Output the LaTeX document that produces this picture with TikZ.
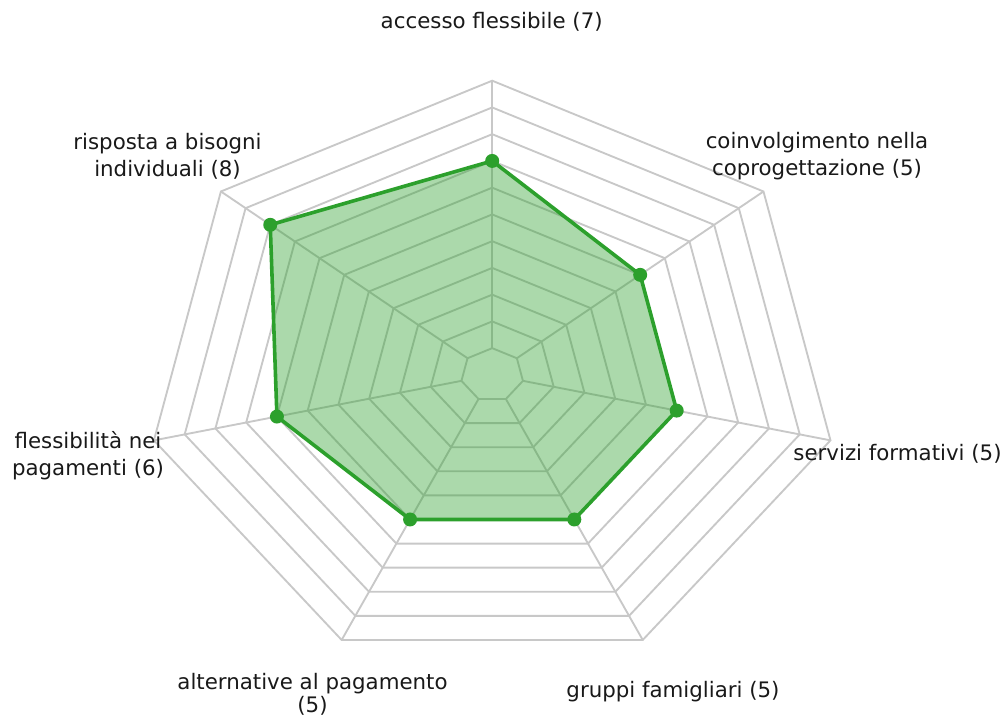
\documentclass[tikz,border=0pt]{standalone}
\usepackage{fontspec}
\setmainfont{DejaVu Sans}
\definecolor{gridc}{HTML}{C8C8C8}
\definecolor{tabgreen}{HTML}{2CA02C}
\tikzset{
  gridline/.style={draw=gridc, line width=1.4pt, line join=miter},
  series/.style={draw=tabgreen, line width=2.7pt, line join=round, fill=tabgreen, fill opacity=0.4, draw opacity=1},
  dot/.style={circle, fill=tabgreen, inner sep=0pt, minimum size=10.5pt},
  lab/.style={font=\fontsize{16pt}{20.25pt}\selectfont, text=black!90, inner sep=0pt, align=center},
}
\begin{document}
\begin{tikzpicture}[x=0.75pt,y=-0.75pt]
\useasboundingbox (0,0) rectangle (1007,717);
\begin{scope}[shift={(492.2,374.9)}, x={(260.25pt,0pt)}, y={(0pt,220.65pt)}]
  % rings (value k at radius (k+1)/11)
  \foreach \k in {0,...,10}{
    \pgfmathsetmacro\f{(\k+1)/11}
    \draw[gridline] (90:\f) -- ({90-360/7}:\f) -- ({90-2*360/7}:\f) -- ({90-3*360/7}:\f)
      -- ({90-4*360/7}:\f) -- ({90-5*360/7}:\f) -- ({90-6*360/7}:\f) -- cycle;
  }
  % spokes
  \foreach \i in {0,...,6}{
    \draw[gridline] ({90-\i*360/7}:{1/11}) -- ({90-\i*360/7}:1);
  }
  % data
  \coordinate (p0) at (90:{8/11});
  \coordinate (p1) at ({90-360/7}:{6/11});
  \coordinate (p2) at ({90-2*360/7}:{6/11});
  \coordinate (p3) at ({90-3*360/7}:{6/11});
  \coordinate (p4) at ({90-4*360/7}:{6/11});
  \coordinate (p5) at ({90-5*360/7}:{7/11});
  \coordinate (p6) at ({90-6*360/7}:{9/11});
  \path[series] (p0) -- (p1) -- (p2) -- (p3) -- (p4) -- (p5) -- (p6) -- cycle;
  \foreach \i in {0,...,6}{ \node[dot] (d\i) at (p\i) {}; }
\end{scope}
% labels
\node[lab, anchor=base] (l0) at (491.7,28.3) {accesso flessibile (7)};
\node[lab] (l1) at (817,156) {coinvolgimento nella\\coprogettazione (5)};
\node[lab, anchor=base] (l2) at (897.5,460) {servizi formativi (5)};
\node[lab, anchor=base] (l3) at (673,697) {gruppi famigliari (5)};
\node[lab] (l4) at (312.5,694) {alternative al pagamento\\[-3pt](5)};
\node[lab] (l5) at (88,456) {flessibilità nei\\pagamenti (6)};
\node[lab] (l6) at (167.5,156) {risposta a bisogni\\individuali (8)};
\end{tikzpicture}
\end{document}
